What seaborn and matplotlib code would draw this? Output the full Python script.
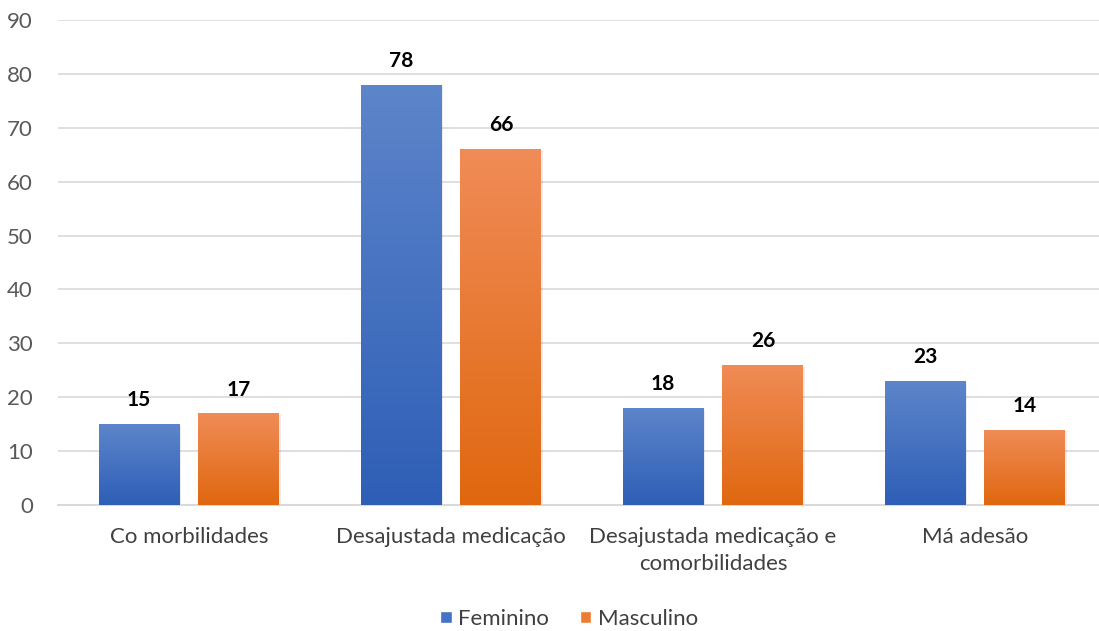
import numpy as np
import pandas as pd
import matplotlib
matplotlib.use('Agg')
import matplotlib.pyplot as plt
import seaborn as sns
from matplotlib.colors import LinearSegmentedColormap
from matplotlib.patches import Patch

# Dados
categorias = ['Co morbilidades', 'Desajustada medicação',
              'Desajustada medicação e\ncomorbilidades', 'Má adesão']
feminino = [15, 78, 18, 23]
masculino = [17, 66, 26, 14]
series = ['Feminino', 'Masculino']

df = pd.DataFrame({
    'categoria': categorias * 2,
    'valor': feminino + masculino,
    'sexo': ['Feminino'] * 4 + ['Masculino'] * 4,
})

cores = {'Feminino': '#4472C4', 'Masculino': '#ED7D31'}
gradientes = {
    'Feminino': ('#2E5EB6', '#5D85CA'),
    'Masculino': ('#E0670F', '#F08C57'),
}

sns.set_theme(style='white')
plt.rcParams['font.family'] = ['Lato', 'DejaVu Sans']

fig = plt.figure(figsize=(10.99, 6.31), dpi=100)
ax = fig.add_axes([58 / 1099, 126 / 631, (1099 - 58) / 1099, 485 / 631])

sns.barplot(data=df, x='categoria', y='valor', hue='sexo', palette=cores,
            width=0.763, gap=0.19, ax=ax, legend=False, errorbar=None)

# gradiente vertical em cada barra
for container, nome in zip(ax.containers, series):
    cmap = LinearSegmentedColormap.from_list(nome, gradientes[nome])
    for bar in container:
        x0, y0 = bar.get_x(), bar.get_y()
        w, h = bar.get_width(), bar.get_height()
        grad = np.linspace(0, 1, 256).reshape(-1, 1)
        im = ax.imshow(grad, cmap=cmap, aspect='auto', origin='lower',
                       extent=[x0, x0 + w, y0, y0 + h], zorder=3)
        im.set_clip_path(bar)
        bar.set_facecolor('none')
        bar.set_edgecolor('none')
        # sombra suave
        ax.add_patch(plt.Rectangle((x0 + 0.006, y0), w, h - 0.3, color='#000000',
                                   alpha=0.08, zorder=2, lw=0))
    ax.bar_label(container, padding=10, fontsize=15, fontweight='bold',
                 color='#000000')

ax.set_xlim(-0.5, (1099 - 58) / 262 - 0.5)
ax.set_ylim(0, 90)
ax.set_yticks(range(0, 91, 10))
ax.yaxis.grid(True, color='#D9D9D9', linewidth=1.2)
ax.set_axisbelow(True)
for s in ['top', 'right', 'left']:
    ax.spines[s].set_visible(False)
ax.spines['bottom'].set_color('#D9D9D9')
ax.spines['bottom'].set_linewidth(1.5)
ax.tick_params(axis='y', length=0, labelsize=16, labelcolor='#595959', pad=18)
ax.tick_params(axis='x', length=0, labelsize=16, labelcolor='#404040', pad=16)
for lbl in ax.get_xticklabels():
    lbl.set_linespacing(1.45)
ax.set_xlabel('')
ax.set_ylabel('')

handles = [Patch(facecolor=cores[n], label=n) for n in series]
fig.legend(handles=handles, loc='center', bbox_to_anchor=(0.518, 0.019),
           ncol=2, frameon=False, fontsize=16, handlelength=0.5,
           handleheight=0.5, handletextpad=0.3, columnspacing=1.4,
           labelcolor='#404040')

fig.savefig('out.png', dpi=100, facecolor='white')
